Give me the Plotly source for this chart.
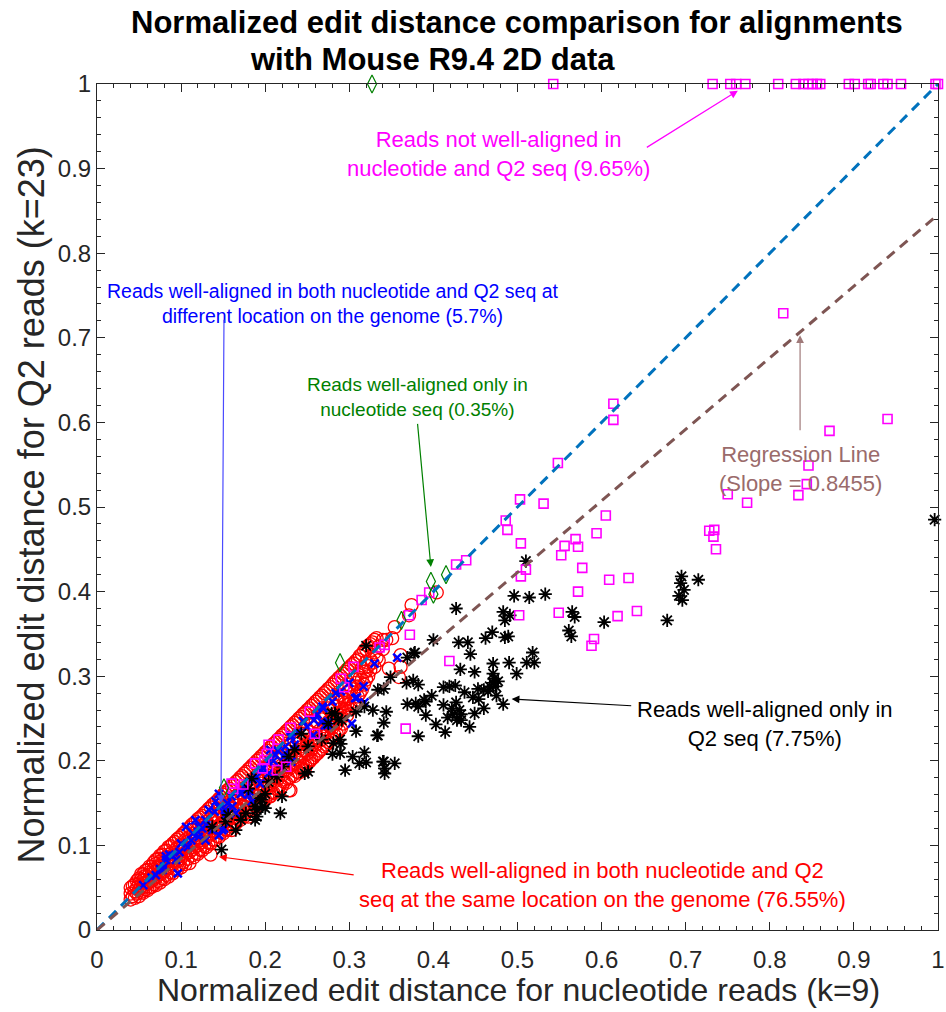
import plotly.graph_objects as go

# ---------------- data ----------------
# red circles: reads well-aligned in both at same location (columns: x -> list of y)
red_columns = [
    (0.040, [0.036, 0.043, 0.050]),
    (0.045, [0.038, 0.046, 0.054]),
    (0.050, [0.040, 0.047, 0.055, 0.061]),
    (0.055, [0.044, 0.051, 0.059, 0.066]),
    (0.060, [0.047, 0.055, 0.063, 0.071]),
    (0.065, [0.051, 0.058, 0.066, 0.075]),
    (0.070, [0.053, 0.062, 0.070, 0.078, 0.083]),
    (0.075, [0.056, 0.066, 0.074, 0.081, 0.088]),
    (0.080, [0.060, 0.069, 0.077, 0.085, 0.093]),
    (0.085, [0.063, 0.073, 0.081, 0.089, 0.098]),
    (0.090, [0.067, 0.077, 0.085, 0.093, 0.102]),
    (0.095, [0.071, 0.081, 0.089, 0.097, 0.107]),
    (0.100, [0.074, 0.085, 0.093, 0.101, 0.111]),
    (0.105, [0.078, 0.089, 0.097, 0.106, 0.116]),
    (0.110, [0.079, 0.092, 0.101, 0.110, 0.121]),
    (0.115, [0.086, 0.096, 0.105, 0.114, 0.126]),
    (0.120, [0.090, 0.100, 0.109, 0.119, 0.131]),
    (0.125, [0.094, 0.104, 0.113, 0.123, 0.135]),
    (0.130, [0.098, 0.109, 0.118, 0.128, 0.140]),
    (0.135, [0.089, 0.102, 0.113, 0.122, 0.132, 0.145]),
    (0.140, [0.106, 0.117, 0.126, 0.136, 0.150]),
    (0.145, [0.110, 0.121, 0.130, 0.141, 0.155]),
    (0.150, [0.114, 0.125, 0.134, 0.145, 0.160]),
    (0.155, [0.118, 0.129, 0.139, 0.150, 0.165]),
    (0.160, [0.118, 0.125, 0.133, 0.143, 0.154, 0.170]),
    (0.165, [0.126, 0.138, 0.147, 0.158, 0.175]),
    (0.170, [0.130, 0.142, 0.151, 0.163, 0.180]),
    (0.175, [0.134, 0.146, 0.156, 0.167, 0.185]),
    (0.180, [0.134, 0.141, 0.150, 0.160, 0.172, 0.190]),
    (0.185, [0.142, 0.154, 0.164, 0.176, 0.195]),
    (0.190, [0.146, 0.158, 0.169, 0.181, 0.200]),
    (0.195, [0.150, 0.162, 0.173, 0.185, 0.205]),
    (0.200, [0.154, 0.167, 0.177, 0.190, 0.210]),
    (0.205, [0.158, 0.161, 0.171, 0.182, 0.195, 0.215]),
    (0.210, [0.162, 0.175, 0.186, 0.199, 0.220]),
    (0.215, [0.166, 0.179, 0.190, 0.204, 0.225]),
    (0.220, [0.170, 0.183, 0.195, 0.209, 0.230]),
    (0.225, [0.174, 0.188, 0.199, 0.213, 0.235]),
    (0.230, [0.165, 0.181, 0.192, 0.204, 0.218, 0.240]),
    (0.235, [0.182, 0.196, 0.208, 0.223, 0.245]),
    (0.240, [0.186, 0.200, 0.213, 0.228, 0.250]),
    (0.245, [0.189, 0.194, 0.205, 0.217, 0.232, 0.255]),
    (0.250, [0.198, 0.209, 0.221, 0.237, 0.260]),
    (0.255, [0.202, 0.214, 0.226, 0.242, 0.265]),
    (0.260, [0.207, 0.219, 0.231, 0.247, 0.270]),
    (0.265, [0.212, 0.224, 0.236, 0.252, 0.275]),
    (0.270, [0.217, 0.229, 0.241, 0.257, 0.280]),
    (0.275, [0.222, 0.234, 0.246, 0.262, 0.285]),
    (0.280, [0.227, 0.239, 0.251, 0.267, 0.290]),
    (0.285, [0.232, 0.244, 0.256, 0.272, 0.295]),
    (0.290, [0.238, 0.250, 0.262, 0.278, 0.300]),
    (0.295, [0.260, 0.268, 0.272, 0.284, 0.305]),
    (0.300, [0.262, 0.274, 0.290, 0.310]),
    (0.305, [0.268, 0.280, 0.296, 0.315]),
    (0.310, [0.276, 0.288, 0.302, 0.320]),
    (0.315, [0.284, 0.296, 0.310, 0.326]),
    (0.320, [0.296, 0.306, 0.317, 0.332]),
    (0.325, [0.307, 0.320, 0.338]),
    (0.330, [0.311, 0.328, 0.343]),
    (0.335, [0.319, 0.335]),
    (0.340, [0.332, 0.343]),
    (0.344, [0.343]),
    (0.347, [0.309]),
    (0.351, [0.345]),
    (0.354, [0.358]),
    (0.359, [0.299]),
    (0.361, [0.311, 0.325]),
    (0.371, [0.372]),
    (0.374, [0.384]),
    (0.404, [0.399]),
    (0.253, [0.201]),
    (0.247, [0.189]),
    (0.228, [0.165]),
    (0.206, [0.158]),
    # interleaved columns (denser core of the band)
    (0.0425, [0.040, 0.052]),
    (0.0475, [0.043, 0.050, 0.058]),
    (0.0525, [0.045, 0.052, 0.060, 0.066]),
    (0.0575, [0.048, 0.056, 0.064, 0.070]),
    (0.0625, [0.050, 0.060, 0.068, 0.075]),
    (0.0675, [0.054, 0.062, 0.072, 0.080]),
    (0.0725, [0.058, 0.066, 0.075, 0.084]),
    (0.0775, [0.061, 0.071, 0.079, 0.089]),
    (0.0825, [0.065, 0.074, 0.083, 0.094]),
    (0.0875, [0.068, 0.079, 0.087, 0.099]),
    (0.0925, [0.072, 0.082, 0.091, 0.104]),
    (0.0975, [0.076, 0.087, 0.096, 0.109]),
    (0.1025, [0.080, 0.090, 0.100, 0.114]),
    (0.1075, [0.084, 0.094, 0.104, 0.119]),
    (0.1125, [0.088, 0.098, 0.108, 0.124]),
    (0.1175, [0.091, 0.102, 0.112, 0.128]),
    (0.1225, [0.095, 0.106, 0.116, 0.133]),
    (0.1275, [0.099, 0.110, 0.121, 0.138]),
    (0.1325, [0.103, 0.114, 0.125, 0.143]),
    (0.1375, [0.107, 0.118, 0.130, 0.148]),
    (0.1425, [0.111, 0.122, 0.134, 0.152]),
    (0.1475, [0.115, 0.126, 0.139, 0.157]),
    (0.1525, [0.119, 0.130, 0.143, 0.162]),
    (0.1575, [0.123, 0.134, 0.148, 0.167]),
    (0.1625, [0.127, 0.138, 0.152, 0.172]),
    (0.1675, [0.131, 0.142, 0.156, 0.177]),
    (0.1725, [0.135, 0.146, 0.161, 0.182]),
    (0.1775, [0.139, 0.150, 0.165, 0.187]),
    (0.1825, [0.143, 0.155, 0.170, 0.192]),
    (0.1875, [0.147, 0.159, 0.174, 0.197]),
    (0.1925, [0.151, 0.163, 0.178, 0.202]),
    (0.1975, [0.155, 0.167, 0.183, 0.207]),
    (0.2025, [0.159, 0.171, 0.187, 0.212]),
    (0.2075, [0.163, 0.176, 0.192, 0.217]),
    (0.2125, [0.167, 0.180, 0.197, 0.222]),
    (0.2175, [0.171, 0.184, 0.201, 0.227]),
    (0.2225, [0.175, 0.189, 0.206, 0.232]),
    (0.2275, [0.179, 0.193, 0.211, 0.237]),
    (0.2325, [0.183, 0.197, 0.215, 0.242]),
    (0.2375, [0.187, 0.202, 0.220, 0.247]),
    (0.2425, [0.191, 0.206, 0.225, 0.252]),
    (0.2475, [0.195, 0.211, 0.230, 0.257]),
    (0.2525, [0.199, 0.215, 0.234, 0.262]),
    (0.2575, [0.204, 0.220, 0.239, 0.267]),
    (0.2625, [0.209, 0.225, 0.244, 0.272]),
    (0.2675, [0.214, 0.230, 0.249, 0.277]),
    (0.2725, [0.219, 0.235, 0.254, 0.282]),
    (0.2775, [0.224, 0.240, 0.259, 0.287]),
    (0.2825, [0.230, 0.245, 0.264, 0.293]),
    (0.2875, [0.236, 0.250, 0.269, 0.298]),
    (0.2925, [0.244, 0.256, 0.275, 0.303]),
    (0.2975, [0.254, 0.266, 0.281, 0.308]),
    (0.3025, [0.262, 0.285, 0.313]),
    (0.3075, [0.270, 0.292, 0.318]),
    (0.3125, [0.280, 0.298, 0.324]),
    (0.3175, [0.290, 0.305, 0.330]),
    (0.3225, [0.300, 0.312, 0.336]),
    (0.3275, [0.316, 0.340]),
    (0.3325, [0.322, 0.345]),
]

blue_x = [0.357, 0.317, 0.309, 0.318, 0.303, 0.284, 0.268, 0.258, 0.267, 0.274, 0.245, 0.257,
          0.307, 0.269, 0.271, 0.275, 0.239, 0.230, 0.224, 0.235, 0.222, 0.231, 0.206, 0.212,
          0.198, 0.204, 0.190, 0.194, 0.177, 0.182, 0.171, 0.145, 0.141, 0.133, 0.129, 0.125,
          0.121, 0.152, 0.153, 0.117, 0.121, 0.106, 0.114, 0.100, 0.108, 0.086, 0.094, 0.082,
          0.096, 0.078, 0.070, 0.055, 0.137, 0.145, 0.129, 0.151, 0.082, 0.080, 0.149, 0.231,
          0.224, 0.204, 0.165, 0.161, 0.180, 0.184, 0.140, 0.145, 0.155, 0.160, 0.170, 0.185,
          0.195, 0.210, 0.215, 0.250, 0.262, 0.280, 0.290, 0.300, 0.330, 0.112, 0.098, 0.090,
          0.075, 0.065, 0.130, 0.120]
blue_y = [0.322, 0.288, 0.275, 0.269, 0.244, 0.280, 0.264, 0.248, 0.246, 0.242, 0.247, 0.230,
          0.274, 0.262, 0.242, 0.246, 0.234, 0.228, 0.217, 0.219, 0.205, 0.199, 0.213, 0.207,
          0.191, 0.185, 0.181, 0.173, 0.169, 0.163, 0.161, 0.161, 0.152, 0.142, 0.130, 0.120,
          0.110, 0.142, 0.136, 0.130, 0.122, 0.122, 0.114, 0.102, 0.098, 0.089, 0.083, 0.083,
          0.067, 0.071, 0.065, 0.053, 0.118, 0.112, 0.106, 0.120, 0.087, 0.075, 0.118, 0.230,
          0.209, 0.199, 0.138, 0.146, 0.160, 0.152, 0.140, 0.145, 0.150, 0.158, 0.165, 0.178,
          0.190, 0.200, 0.212, 0.240, 0.255, 0.270, 0.282, 0.292, 0.315, 0.106, 0.092, 0.088,
          0.072, 0.062, 0.124, 0.116]

black_x = [0.695, 0.694, 0.698, 0.692, 0.696, 0.715, 0.678, 0.603, 0.565, 0.568, 0.561, 0.564,
           0.533, 0.514, 0.496, 0.510, 0.427, 0.483, 0.491, 0.485, 0.470, 0.462, 0.485, 0.489,
           0.430, 0.441, 0.400, 0.518, 0.444, 0.378, 0.369, 0.432, 0.449, 0.471, 0.490, 0.511,
           0.520, 0.499, 0.471, 0.472, 0.471, 0.467, 0.477, 0.474, 0.412, 0.419, 0.426, 0.437,
           0.453, 0.460, 0.465, 0.475, 0.447, 0.454, 0.483, 0.398, 0.389, 0.391, 0.412, 0.427,
           0.422, 0.431, 0.423, 0.433, 0.417, 0.428, 0.433, 0.449, 0.460, 0.391, 0.403, 0.414,
           0.443, 0.382, 0.344, 0.341, 0.354, 0.341, 0.342, 0.342, 0.334, 0.368, 0.376, 0.382,
           0.341, 0.349, 0.334, 0.320, 0.377, 0.369, 0.379, 0.382, 0.318, 0.328, 0.308, 0.308,
           0.333, 0.279, 0.287, 0.275, 0.283, 0.291, 0.289, 0.281, 0.290, 0.243, 0.251, 0.267,
           0.280, 0.289, 0.304, 0.318, 0.312, 0.320, 0.340, 0.295, 0.247, 0.251, 0.235, 0.228,
           0.221, 0.214, 0.204, 0.220, 0.218, 0.196, 0.188, 0.190, 0.200, 0.177, 0.165, 0.148,
           0.171, 0.137, 0.153, 0.156, 0.188, 0.190, 0.197, 0.194, 0.200, 0.180, 0.184, 0.996]
black_y = [0.418, 0.410, 0.402, 0.395, 0.390, 0.414, 0.366, 0.364, 0.376, 0.370, 0.354, 0.347,
           0.397, 0.393, 0.395, 0.436, 0.380, 0.376, 0.372, 0.366, 0.352, 0.345, 0.346, 0.347,
           0.340, 0.340, 0.343, 0.328, 0.326, 0.328, 0.322, 0.308, 0.305, 0.315, 0.316, 0.316,
           0.316, 0.303, 0.303, 0.297, 0.292, 0.288, 0.294, 0.288, 0.287, 0.288, 0.289, 0.281,
           0.285, 0.284, 0.282, 0.277, 0.275, 0.273, 0.267, 0.277, 0.272, 0.270, 0.266, 0.269,
           0.262, 0.260, 0.255, 0.255, 0.251, 0.248, 0.248, 0.256, 0.262, 0.254, 0.243, 0.234,
           0.240, 0.229, 0.258, 0.245, 0.197, 0.199, 0.191, 0.185, 0.230, 0.292, 0.295, 0.290,
           0.285, 0.299, 0.284, 0.336, 0.327, 0.267, 0.268, 0.264, 0.264, 0.260, 0.258, 0.235,
           0.230, 0.256, 0.249, 0.244, 0.256, 0.248, 0.225, 0.221, 0.220, 0.232, 0.217, 0.225,
           0.208, 0.209, 0.205, 0.210, 0.197, 0.198, 0.199, 0.189, 0.185, 0.187, 0.213, 0.205,
           0.193, 0.181, 0.175, 0.158, 0.138, 0.154, 0.146, 0.134, 0.144, 0.138, 0.118, 0.095,
           0.130, 0.122, 0.128, 0.136, 0.130, 0.142, 0.146, 0.156, 0.161, 0.167, 0.179, 0.485]

magenta_x = [0.5425, 0.732, 0.753, 0.760, 0.771, 0.810, 0.831, 0.840, 0.846, 0.851, 0.856,
             0.860, 0.894, 0.901, 0.917, 0.920, 0.935, 0.940, 0.956, 0.997, 1.000,
             0.614, 0.614, 0.548, 0.503, 0.531, 0.486, 0.488, 0.504, 0.605, 0.594, 0.569,
             0.556, 0.572, 0.552, 0.510, 0.504, 0.577, 0.609, 0.632, 0.572, 0.502, 0.549,
             0.619, 0.642, 0.591, 0.588, 0.750, 0.773, 0.728, 0.734, 0.733, 0.736, 0.871,
             0.940, 0.846, 0.844, 0.834, 0.816, 0.427, 0.439, 0.419, 0.367, 0.395, 0.386,
             0.372, 0.305, 0.336, 0.342, 0.290, 0.294, 0.253, 0.259, 0.371, 0.230, 0.216,
             0.204, 0.202, 0.199, 0.188, 0.197, 0.225, 0.214, 0.160, 0.174, 0.162]
magenta_y = [1.0, 1.0, 1.0, 1.0, 1.0, 1.0, 1.0, 1.0, 1.0, 1.0, 1.0,
             1.0, 1.0, 1.0, 1.0, 1.0, 1.0, 1.0, 1.0, 1.0, 1.0,
             0.622, 0.603, 0.552, 0.509, 0.504, 0.484, 0.473, 0.457, 0.490, 0.469, 0.462,
             0.454, 0.453, 0.443, 0.426, 0.418, 0.428, 0.414, 0.416, 0.400, 0.372, 0.375,
             0.371, 0.377, 0.344, 0.336, 0.515, 0.505, 0.472, 0.473, 0.465, 0.450, 0.590,
             0.604, 0.549, 0.527, 0.514, 0.729, 0.432, 0.437, 0.318, 0.238, 0.399, 0.390,
             0.349, 0.311, 0.334, 0.337, 0.297, 0.287, 0.258, 0.232, 0.372, 0.239, 0.225,
             0.219, 0.208, 0.201, 0.197, 0.191, 0.193, 0.189, 0.173, 0.172, 0.167]

green_x = [0.327, 0.397, 0.415, 0.400, 0.362, 0.289, 0.151]
green_y = [1.000, 0.412, 0.420, 0.397, 0.366, 0.316, 0.168]

regression_slope = 0.8455
line_x = [0, 1]

tick_vals = [0, 0.1, 0.2, 0.3, 0.4, 0.5, 0.6, 0.7, 0.8, 0.9, 1]
tick_text = ["0", "0.1", "0.2", "0.3", "0.4", "0.5", "0.6", "0.7", "0.8", "0.9", "1"]

red_x = [c[0] for c in red_columns for _ in c[1]]
red_y = [y for c in red_columns for y in c[1]]

FONT = "Liberation Sans, Arial, Helvetica, sans-serif"

fig = go.Figure()
fig.add_trace(go.Scatter(x=red_x, y=red_y, mode="markers",
                         marker=dict(symbol="circle-open", size=13, color="#ff0000",
                                     line=dict(width=1.3, color="#ff0000"))))
fig.add_trace(go.Scatter(x=blue_x, y=blue_y, mode="markers",
                         marker=dict(symbol="x-thin-open", size=8, color="#0000ff",
                                     line=dict(width=2.5, color="#0000ff"))))
fig.add_trace(go.Scatter(x=black_x, y=black_y, mode="markers", cliponaxis=False,
                         marker=dict(symbol="asterisk-open", size=11, color="#000000",
                                     line=dict(width=1.8, color="#000000"))))
fig.add_trace(go.Scatter(x=magenta_x, y=magenta_y, mode="markers", cliponaxis=False,
                         marker=dict(symbol="square-open", size=9, color="#ff00ff",
                                     line=dict(width=1.6, color="#ff00ff"))))
fig.add_trace(go.Scatter(x=green_x, y=green_y, mode="markers", cliponaxis=False,
                         marker=dict(symbol="diamond-tall-open", size=13, color="#008000",
                                     line=dict(width=1.2, color="#008000"))))
fig.add_trace(go.Scatter(x=line_x, y=[v for v in line_x], mode="lines",
                         line=dict(color="#0072bd", width=3, dash="10px,7px")))
fig.add_trace(go.Scatter(x=line_x, y=[regression_slope * v for v in line_x], mode="lines",
                         line=dict(color="#7e5553", width=3, dash="10px,7px")))

axis_common = dict(range=[0, 1], tickvals=tick_vals, ticktext=tick_text,
                   showgrid=False, zeroline=False, showline=True, mirror="allticks",
                   linecolor="#262626", linewidth=1, ticks="inside", ticklen=8,
                   tickcolor="#262626", tickwidth=1, ticklabeloverflow="allow",
                   tickfont=dict(family=FONT, size=24, color="#262626"),
                   minor=dict(ticks="inside", dtick=0.02, ticklen=4, tickcolor="#262626"))
fig.update_xaxes(**axis_common)
fig.update_yaxes(**axis_common)
fig.update_xaxes(ticklabelstandoff=8)

annotations = []


def add_paper_text(px, py, text, size, color, angle=0):
    annotations.append(dict(x=(px - 97) / 848, y=(930 - py) / 846, xref="paper", yref="paper",
                            xanchor="center", yanchor="middle", text=text, showarrow=False,
                            align="center", textangle=angle,
                            font=dict(family=FONT, size=size, color=color)))


# titles
add_paper_text(520, 22, "<b>Normalized edit distance comparison for alignments</b>", 31, "#000000")
add_paper_text(435, 60, "<b>with Mouse R9.4 2D data</b>", 31, "#000000")
add_paper_text(522, 990, "Normalized edit distance for nucleotide reads (k=9)", 32, "#262626")
add_paper_text(30, 505, "Normalized edit distance for Q2 reads (k=23)", 36, "#262626", -90)


def add_arrow(tip, tail, color, width=1.2):
    annotations.append(dict(x=tip[0], y=tip[1], ax=tail[0], ay=tail[1], xref="x", yref="y",
                            axref="x", ayref="y", text="", showarrow=True, arrowhead=2,
                            arrowsize=1.3, arrowwidth=width,
                            arrowcolor=color, standoff=0, startstandoff=0))


add_paper_text(502, 154, "Reads not well-aligned in<br>nucleotide and Q2 seq (9.65%)", 22, "#ff00ff")
add_arrow((0.762, 0.992), (0.652, 0.924), "#ff00ff")

add_paper_text(335, 303, "Reads well-aligned in both nucleotide and Q2 seq at<br>different location on the genome (5.7%)", 19.5, "#0000ff")
add_arrow((0.1474, 0.150), (0.151, 0.723), "#4a4aff")

add_paper_text(420, 397, "Reads well-aligned only in<br>nucleotide seq (0.35%)", 19, "#008000")
add_arrow((0.397, 0.429), (0.381, 0.600), "#008000")

add_paper_text(806, 469, "Regression Line<br>(Slope = 0.8455)", 22, "#9a6b6b")
add_arrow((0.836, 0.703), (0.836, 0.589), "#a07a7a")

add_paper_text(771, 724, "Reads well-aligned only in<br>Q2 seq (7.75%)", 22, "#000000")
add_arrow((0.493, 0.273), (0.637, 0.265), "#000000")

add_paper_text(607, 885, "Reads well-aligned in both nucleotide and Q2<br>seq at the same location on the genome (76.55%)", 22, "#ff0000")
add_arrow((0.145, 0.0866), (0.307, 0.065), "#ff0000")

fig.update_layout(width=946, height=1012, autosize=False,
                  margin=dict(l=97, r=1, t=84, b=82),
                  paper_bgcolor="white", plot_bgcolor="white",
                  showlegend=False, annotations=annotations,
                  font=dict(family=FONT))

fig.write_html("out.html")
